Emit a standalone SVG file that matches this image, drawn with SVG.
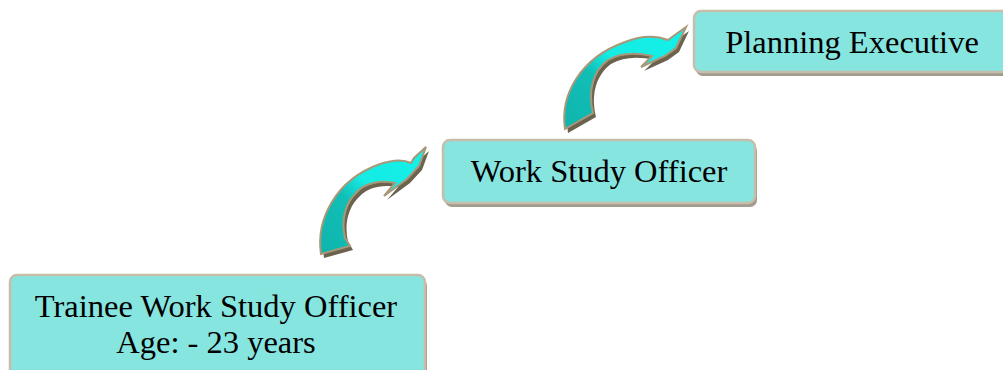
<svg xmlns="http://www.w3.org/2000/svg" width="1003" height="370" viewBox="0 0 1003 370">
<defs>
<style>
.box{fill:#87E5E0;stroke:#C6BDAA;stroke-width:2.5}
.bshadow{fill:#A29C8E}
.lbl{font-family:"Liberation Serif","Times New Roman",serif;font-size:32.5px;fill:#000;text-anchor:middle}
.arr{fill:url(#ag);stroke:#A8987A;stroke-width:2;stroke-linejoin:miter}
.ashadow{fill:#6C634F}
</style>
<linearGradient id="ag" x1="0" y1="1" x2="1" y2="0">
<stop offset="0" stop-color="#0FB5AD"/>
<stop offset="0.38" stop-color="#11BEB6"/>
<stop offset="0.55" stop-color="#14ECE4"/>
<stop offset="1" stop-color="#14F0E8"/>
</linearGradient>
</defs>
<rect width="1003" height="370" fill="#fff"/>
<g id="connectors">
<g id="arrow1">
<path class="ashadow" transform="translate(3,4)" d="M321,254 C316,220 335,180 380,164 C395,159 405,160 411,163 L414,158 L426,147 L419,166 L407,179 L384,196 L395,183 C380,180 365,183 357,192 C345,203 341,220 345,238 L350,246 Z"/>
<path class="arr" d="M321,254 C316,220 335,180 380,164 C395,159 405,160 411,163 L414,158 L426,147 L419,166 L407,179 L384,196 L395,183 C380,180 365,183 357,192 C345,203 341,220 345,238 L350,246 Z"/>
</g>
<g id="arrow2">
<path class="ashadow" transform="translate(3,4)" d="M565,129 C560,95 580,58 625,42 C640,36 655,35 668,40 L672,37 L686,27 L676,48 L665,56 L641,67 L652,56 C635,52 620,53 608,60 C592,72 588,92 593,113 Z"/>
<path class="arr" d="M565,129 C560,95 580,58 625,42 C640,36 655,35 668,40 L672,37 L686,27 L676,48 L665,56 L641,67 L652,56 C635,52 620,53 608,60 C592,72 588,92 593,113 Z"/>
</g>
</g>
<g id="node-trainee">
<rect class="bshadow" x="12" y="279" width="415" height="110" rx="7"/>
<rect class="box" x="10" y="275" width="415" height="110" rx="7"/>
<text class="lbl" x="216" y="317">Trainee Work Study Officer</text>
<text class="lbl" x="216" y="353">Age: - 23 years</text>
</g>
<g id="node-wso">
<rect class="bshadow" x="445" y="144" width="312" height="63" rx="7"/>
<rect class="box" x="443" y="140" width="312" height="63" rx="7"/>
<text class="lbl" x="599" y="182">Work Study Officer</text>
</g>
<g id="node-pe">
<rect class="bshadow" x="696" y="15" width="320" height="61" rx="7"/>
<rect class="box" x="694" y="11" width="320" height="61" rx="7"/>
<text class="lbl" x="852" y="53">Planning Executive</text>
</g>
</svg>
